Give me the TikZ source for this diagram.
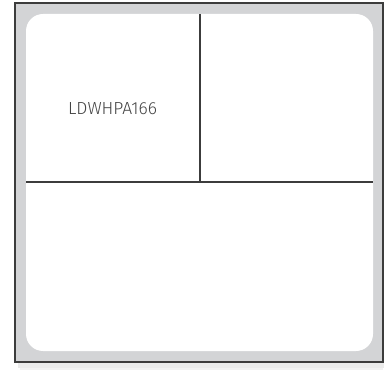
\documentclass[tikz,border=0pt]{standalone}
\usepackage{fontspec}
\newfontfamily\labelfont{Fira Sans Light}
\definecolor{panelgrey}{HTML}{D3D4D6}
\definecolor{edgegrey}{HTML}{3C3C3C}
\definecolor{textgrey}{HTML}{444444}
\tikzset{
  divider/.style={draw=edgegrey, line width=1.3pt},
  celllabel/.style={font=\labelfont\fontsize{17.5}{20}\selectfont, text=textgrey, inner sep=0pt}
}
\begin{document}
\begin{tikzpicture}[x=1pt,y=-1pt]
\useasboundingbox (0,0) rectangle (385,371);
% soft shadow
\fill[black!8] (18,362) rectangle (384,368);
\fill[black!5] (20,368) rectangle (383,370);
% outer panel
\draw[fill=panelgrey, draw=edgegrey, line width=1.2pt] (15,3) rectangle (383,362);
% inner white rounded area
\fill[white, rounded corners=17pt] (26,14) rectangle (373,351);
% dividers
\coordinate (vtop) at (200,14);
\coordinate (cross) at (200,182);
\coordinate (hleft) at (26,182);
\coordinate (hright) at (373,182);
\draw[divider] (vtop) -- (cross);
\draw[divider] (hleft) -- (hright);
\node[celllabel] (lbl) at (112.5,109) {LDWHPA166};
\end{tikzpicture}
\end{document}
